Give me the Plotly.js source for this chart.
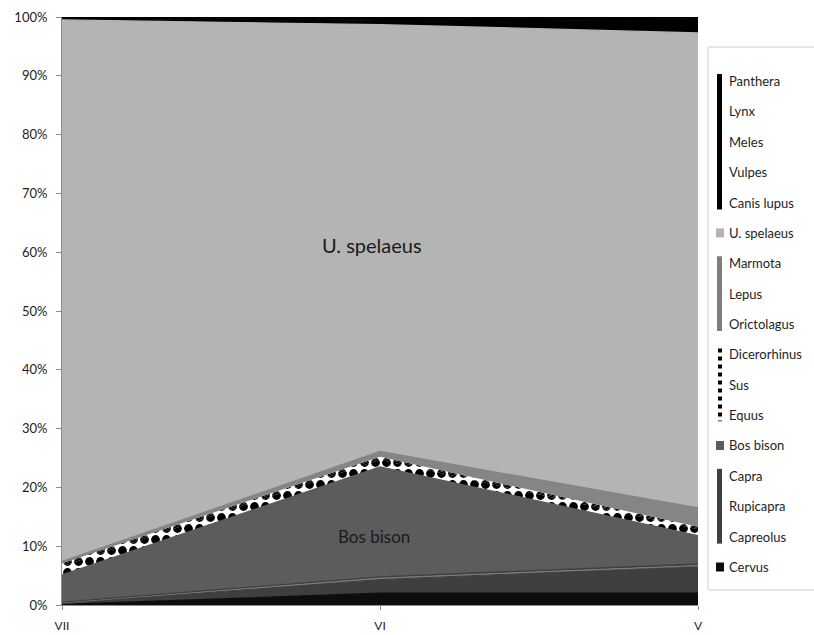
<!DOCTYPE html>
<html>
<head>
<meta charset="utf-8">
<script src="https://cdn.plot.ly/plotly-3.0.1.min.js"></script>
<style>
html,body{margin:0;padding:0;background:#fff;}
#chart{width:814px;height:635px;}
</style>
</head>
<body>
<div id="chart"></div>
<script>
// Categories (stratigraphic levels)
var levels = ['VII', 'VI', 'V'];

// Series values (% of remains), bottom to top of the stack
var cervus       = [0.1, 2.0, 2.0];
var capreolus    = [0.2, 2.3, 4.6];
var rupicapra    = [0.1, 0.3, 0.1];
var capra        = [0.1, 0.2, 0.3];
var bosBison     = [4.6, 18.7, 4.8];
var equus        = [1.5, 1.2, 1.1];
var sus          = [0.3, 0.3, 0.2];
var dicerorhinus = [0.2, 0.2, 0.2];
var orictolagus  = [0.1, 0.3, 1.5];
var lepus        = [0.1, 0.4, 1.2];
var marmota      = [0.1, 0.2, 0.5];
var uSpelaeus    = [92.1, 72.6, 80.8];
var canisLupus   = [0.3, 0.6, 1.3];
var vulpes       = [0.2, 0.3, 0.6];
var meles        = [0.1, 0.2, 0.4];
var lynx         = [0.05, 0.1, 0.2];
var panthera     = [0.05, 0.1, 0.2];

var yTicks = [0,10,20,30,40,50,60,70,80,90,100];
var yTickText = yTicks.map(function(v){return v + '%';});

var C_BLACK = '#0d0d0d', C_CAPRA = '#3f3f3f', C_RUPI = '#7a7a7a', C_BOS = '#5c5c5c',
    C_SMALL = '#858585', C_URSUS = '#b4b4b4', C_CARN = '#000000';

var series = [
  {name:'Cervus', y:cervus, color:C_BLACK},
  {name:'Capreolus', y:capreolus, color:C_CAPRA},
  {name:'Rupicapra', y:rupicapra, color:C_RUPI},
  {name:'Capra', y:capra, color:C_CAPRA},
  {name:'Bos bison', y:bosBison, color:C_BOS},
  {name:'Equus', y:equus, pattern:true},
  {name:'Sus', y:sus, pattern:true},
  {name:'Dicerorhinus', y:dicerorhinus, pattern:true},
  {name:'Orictolagus', y:orictolagus, color:C_SMALL},
  {name:'Lepus', y:lepus, color:C_SMALL},
  {name:'Marmota', y:marmota, color:C_SMALL},
  {name:'U. spelaeus', y:uSpelaeus, color:C_URSUS},
  {name:'Canis lupus', y:canisLupus, color:C_CARN},
  {name:'Vulpes', y:vulpes, color:C_CARN},
  {name:'Meles', y:meles, color:C_CARN},
  {name:'Lynx', y:lynx, color:C_CARN},
  {name:'Panthera', y:panthera, color:C_CARN}
];

var traces = series.map(function(s){
  var t = {
    type:'scatter', mode:'lines', x:levels, y:s.y, name:s.name,
    stackgroup:'one',
    line: s.pattern ? {width:0, color:'#ffffff'} : {width:1.3, color:s.color},
    hoverinfo:'name+y', showlegend:false
  };
  if (s.pattern) {
    t.fillcolor = '#ffffff';
    t.fillpattern = {shape:'.', fgcolor:'#000000', bgcolor:'#ffffff', size:11, solidity:0.5};
  } else {
    t.fillcolor = s.color;
  }
  return t;
});

// layout helpers: pixel -> paper
var L = 62, R = 698, T = 17, B = 605;
function px(x){ return (x - L) / (R - L); }
function py(y){ return (B - y) / (B - T); }

var shapes = [];
var annotations = [];

// legend frame
shapes.push({type:'rect', xref:'paper', yref:'paper', x0:px(708), x1:px(815), y0:py(47), y1:py(590),
  line:{color:'#cfcfcf', width:1}, fillcolor:'rgba(0,0,0,0)'});

// legend entries, top to bottom
var legendNames = ['Panthera','Lynx','Meles','Vulpes','Canis lupus','U. spelaeus','Marmota','Lepus','Orictolagus',
  'Dicerorhinus','Sus','Equus','Bos bison','Capra','Rupicapra','Capreolus','Cervus'];
var legendGroups = [
  {from:0, to:4, color:'#000000'},
  {from:5, to:5, color:C_URSUS},
  {from:6, to:8, color:'#7e7e7e'},
  {from:9, to:11, pattern:true},
  {from:12, to:12, color:C_BOS},
  {from:13, to:15, color:C_CAPRA},
  {from:16, to:16, color:C_BLACK}
];
function itemY(i){ return 81 + i * 30.375; }
legendNames.forEach(function(n, i){
  annotations.push({xref:'paper', yref:'paper', x:px(727), y:py(itemY(i)), text:n, showarrow:false,
    xanchor:'left', yanchor:'middle', font:{family:'Lato, sans-serif', size:13, color:'#1e1e1e'}});
});
legendGroups.forEach(function(g){
  var y0 = itemY(g.from), y1 = itemY(g.to);
  if (g.pattern) {
    shapes.push({type:'line', xref:'paper', yref:'paper', x0:px(720), x1:px(720), y0:py(y0-6), y1:py(y1+6),
      line:{color:'#000', width:4, dash:'dot'}});
  } else if (g.from === g.to) {
    shapes.push({type:'rect', xref:'paper', yref:'paper', x0:px(716), x1:px(724), y0:py(y0-4.5), y1:py(y0+4.5),
      line:{width:0}, fillcolor:g.color});
  } else {
    shapes.push({type:'rect', xref:'paper', yref:'paper', x0:px(717), x1:px(722), y0:py(y0-7), y1:py(y1+7),
      line:{width:0}, fillcolor:g.color});
  }
});

// in-chart labels
annotations.push({x:0.975, y:61.2, xref:'x', yref:'y', text:'U. spelaeus', showarrow:false,
  font:{family:'Lato, sans-serif', size:20, color:'#1a1a1a'}});
annotations.push({x:0.98, y:11.6, xref:'x', yref:'y', text:'Bos bison', showarrow:false,
  font:{family:'Lato, sans-serif', size:17, color:'#1a1a1a'}});

var layout = {
  width:814, height:635,
  margin:{l:L, r:814-R, t:T, b:635-B},
  paper_bgcolor:'#ffffff', plot_bgcolor:'#ffffff',
  showlegend:false,
  font:{family:'Lato, sans-serif', size:12, color:'#1e1e1e'},
  xaxis:{type:'category', range:[0,2], showgrid:false, zeroline:false,
    showline:true, linecolor:'#8c8c8c', linewidth:1, ticks:'outside', ticklen:4, tickcolor:'#8c8c8c',
    tickfont:{size:12}, ticklabelstandoff:6, fixedrange:true},
  yaxis:{range:[0,100], tickvals:yTicks, ticktext:yTickText, showgrid:false, zeroline:false,
    showline:true, linecolor:'#8c8c8c', linewidth:1, ticks:'outside', ticklen:5, tickcolor:'#8c8c8c',
    tickfont:{size:13}, ticklabelstandoff:6, fixedrange:true},
  shapes:shapes,
  annotations:annotations
};

Plotly.newPlot('chart', traces, layout, {displayModeBar:false, staticPlot:true});
</script>
</body>
</html>
